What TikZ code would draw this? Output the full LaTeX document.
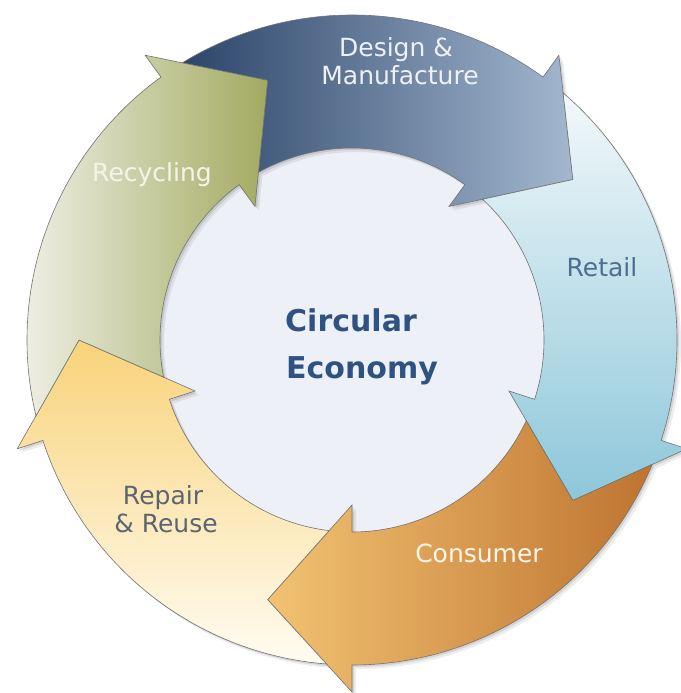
\documentclass[tikz,border=0pt]{standalone}
\usepackage{fontspec}
\setmainfont{DejaVu Sans}
\definecolor{centerfill}{HTML}{EEF0F8}
\definecolor{designA}{HTML}{2C4569}
\definecolor{designB}{HTML}{A3B7CF}
\definecolor{retailA}{HTML}{F2F8FA}
\definecolor{retailB}{HTML}{8DC7DA}
\definecolor{consA}{HTML}{F2C272}
\definecolor{consB}{HTML}{BE7430}
\definecolor{repA}{HTML}{F8D37A}
\definecolor{repB}{HTML}{FFFCF2}
\definecolor{recA}{HTML}{F4F4EE}
\definecolor{recB}{HTML}{A2AA60}
\definecolor{txtlight}{HTML}{EEF2F7}
\definecolor{txtretail}{HTML}{4F6D8E}
\definecolor{txtcons}{HTML}{FFF6E8}
\definecolor{txtrep}{HTML}{5B6470}
\definecolor{txtrec}{HTML}{F4F4EA}
\definecolor{txtcenter}{HTML}{2E5282}
% #1 = base angle of previous arrow head, #2 = base angle of own head
\newcommand{\cyclearrow}[2]{({#1-4.5}:325pt) arc[start angle={#1-4.5}, end angle={#2}, radius=325pt]
 -- ({#2}:352pt) -- ({#2-18}:273pt) -- ({#2}:165pt) -- ({#2}:192pt)
 arc[start angle={#2}, end angle={#1-6.85}, radius=192pt]
 -- ({#1-18}:273pt) -- cycle}
\begin{document}
\begin{tikzpicture}[x=1pt,y=1pt,
  arrowline/.style={draw=black!55, line width=0.6pt, line join=miter},
  lbl/.style={font=\fontsize{25}{29}\selectfont, anchor=base, inner sep=0pt},
  ctr/.style={font=\fontsize{30}{47}\selectfont\bfseries, anchor=base, inner sep=0pt, text=txtcenter}]
\useasboundingbox (0,0) rectangle (680,693);
\fill[white] (0,0) rectangle (680,693);
\begin{scope}[shift={(352,353)}]
  \fill[centerfill] (0,0) circle[radius=195pt];
  \foreach \p/\b in {126/54, 54/-18, -18/-90, -90/-162, -162/-234} {
    \fill[black, opacity=0.07, shift={(4,-4)}] \cyclearrow{\p}{\b};
    \fill[black, opacity=0.10, shift={(2,-2)}] \cyclearrow{\p}{\b};
  }
  \path[arrowline, left color=designA, right color=designB] \cyclearrow{126}{54};
  \path[arrowline, top color=retailA, bottom color=retailB] \cyclearrow{54}{-18};
  \path[arrowline, left color=consA, right color=consB] \cyclearrow{-18}{-90};
  \path[arrowline, top color=repA, bottom color=repB] \cyclearrow{-90}{-162};
  \path[arrowline, left color=recA, right color=recB] \cyclearrow{-162}{-234};
\end{scope}
\node[lbl, text=txtlight] (design1) at (396,636) {Design \&};
\node[lbl, text=txtlight] (design2) at (400,608) {Manufacture};
\node[lbl, text=txtretail] (retail) at (602,416) {Retail};
\node[lbl, text=txtcons] (consumer) at (479,130) {Consumer};
\node[lbl, text=txtrep] (repair1) at (163,188) {Repair};
\node[lbl, text=txtrep] (repair2) at (166,160) {\& Reuse};
\node[lbl, text=txtrec] (recycling) at (152,511) {Recycling};
\node[ctr] (circular) at (351,361) {Circular};
\node[ctr] (economy) at (362,314) {Economy};
\end{tikzpicture}
\end{document}
